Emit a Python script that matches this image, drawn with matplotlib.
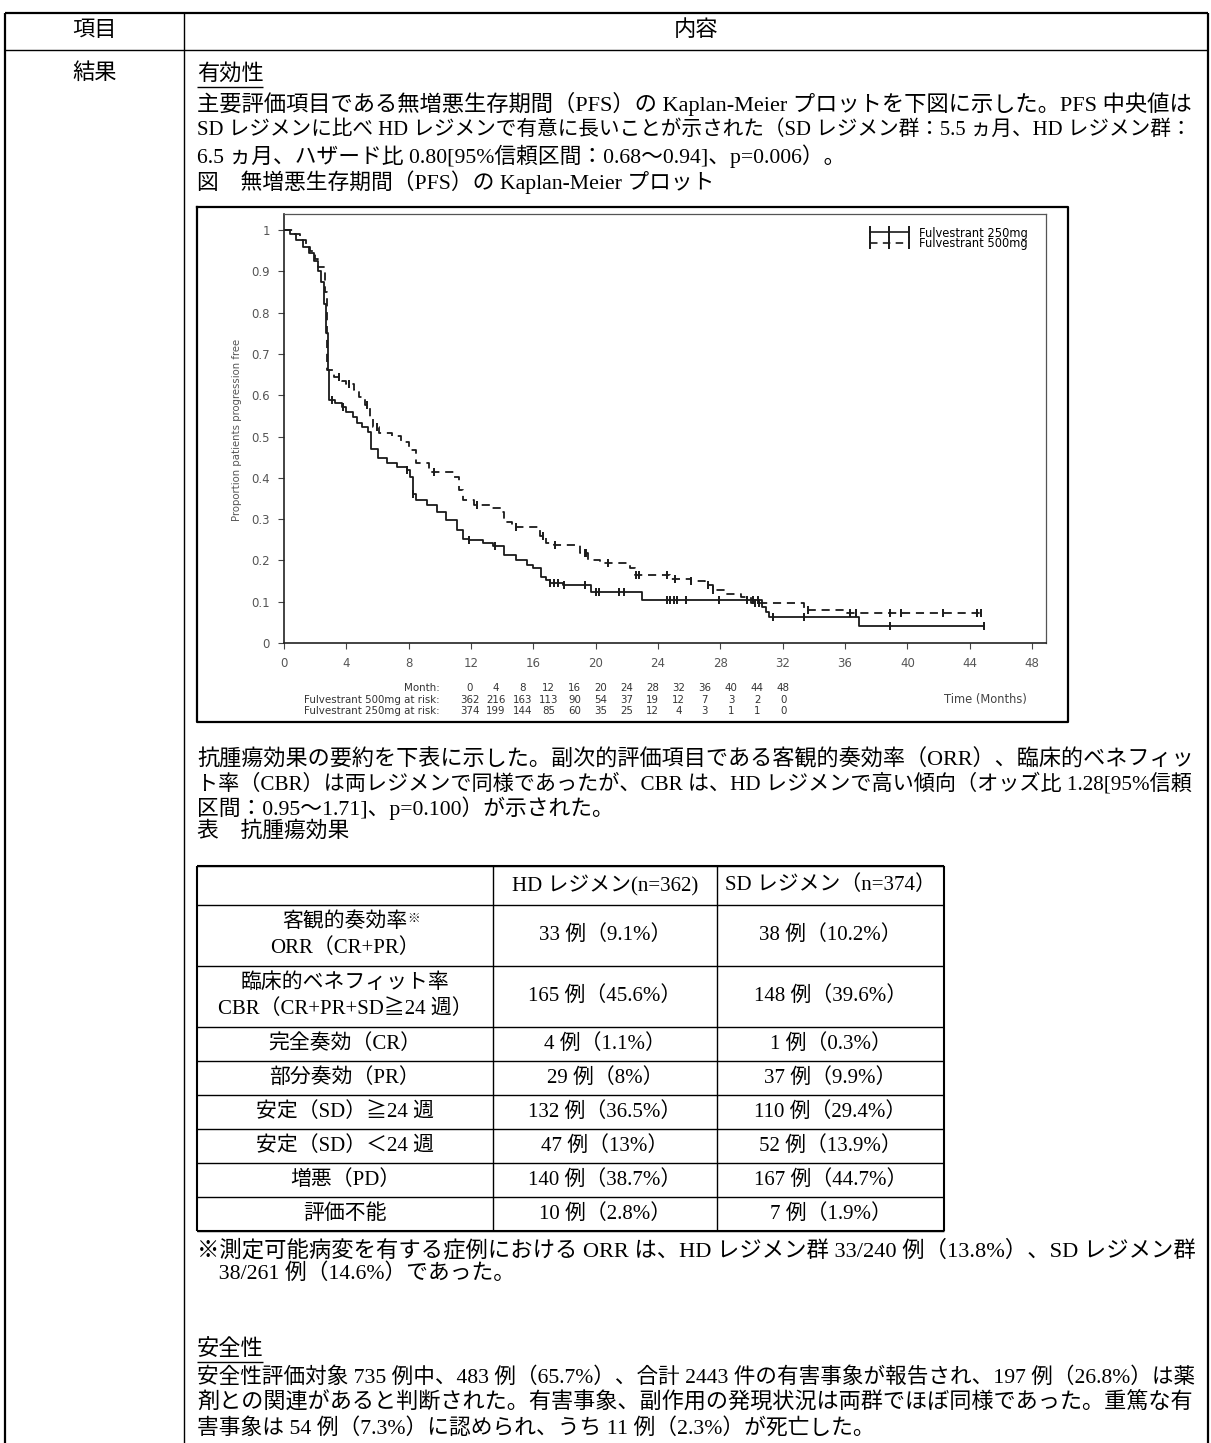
import numpy as np
import matplotlib.pyplot as plt
from matplotlib.lines import Line2D

plt.rcParams['font.family'] = ['Liberation Serif', 'Noto Sans CJK JP']

# Kaplan-Meier steps: (month, proportion progression free)
km_500 = [(0, 1.0), (0.6, 0.99), (1.0, 0.975), (1.4, 0.96), (1.7, 0.95), (2.0, 0.93),
          (2.2, 0.91), (2.63, 0.85), (2.78, 0.66), (3.2, 0.645), (3.7, 0.635), (4.0, 0.628),
          (4.5, 0.612), (4.8, 0.596), (5.2, 0.576), (5.5, 0.544), (5.7, 0.524), (6.1, 0.508),
          (6.9, 0.502), (7.5, 0.488), (8.0, 0.467), (8.5, 0.435), (9.3, 0.415), (10.9, 0.403),
          (11.2, 0.37), (11.5, 0.346), (12.2, 0.334), (13.2, 0.326), (13.9, 0.318), (14.1, 0.294),
          (14.6, 0.282), (16.4, 0.258), (16.8, 0.242), (17.3, 0.237), (19.0, 0.217), (19.5, 0.202),
          (20.3, 0.193), (22.2, 0.181), (22.5, 0.165), (24.8, 0.154), (26.1, 0.149), (27.0, 0.140),
          (27.5, 0.128), (28.3, 0.119), (29.3, 0.112), (30.0, 0.098), (33.4, 0.080), (36.1, 0.072),
          (44.7, 0.072)]
km_250 = [(0, 1.0), (0.4, 0.99), (0.8, 0.975), (1.2, 0.96), (1.6, 0.945), (1.9, 0.925),
          (2.2, 0.90), (2.4, 0.875), (2.55, 0.82), (2.7, 0.75), (2.8, 0.66), (2.9, 0.589),
          (3.3, 0.582), (3.7, 0.572), (4.0, 0.56), (4.4, 0.548), (4.7, 0.532), (5.0, 0.522),
          (5.42, 0.512), (5.6, 0.47), (6.06, 0.447), (6.6, 0.435), (7.24, 0.427), (7.88, 0.419),
          (8.1, 0.403), (8.3, 0.362), (8.5, 0.346), (9.16, 0.334), (9.8, 0.318), (10.4, 0.298),
          (11.1, 0.274), (11.5, 0.253), (11.9, 0.249), (12.8, 0.241), (13.4, 0.236), (14.1, 0.213),
          (14.9, 0.201), (15.6, 0.189), (16.0, 0.181), (16.5, 0.161), (16.8, 0.153), (17.1, 0.146),
          (17.9, 0.140), (19.7, 0.124), (23.0, 0.104), (30.7, 0.088), (30.9, 0.075), (31.1, 0.064),
          (36.9, 0.041), (44.9, 0.041)]
cens_500 = [3.5, 4.2, 5.3, 6.0, 9.6, 12.4, 14.9, 16.6, 17.4, 19.3, 19.4, 20.8, 22.6, 22.8,
            24.6, 25.1, 26.1, 27.2, 27.5, 30.2, 30.5, 33.6, 36.3, 36.7, 38.9, 39.6, 42.3, 44.5, 44.7]
cens_250 = [3.1, 3.8, 7.9, 8.3, 11.9, 13.55, 17.1, 17.3, 17.6, 18.0, 19.3, 20.0, 20.2, 21.5,
            21.8, 24.6, 24.8, 25.0, 25.2, 25.8, 27.9, 29.7, 30.1, 30.4, 31.4, 33.4, 38.9, 44.9]

risk_month = [0, 4, 8, 12, 16, 20, 24, 28, 32, 36, 40, 44, 48]
risk_500 = [362, 216, 163, 113, 90, 54, 37, 19, 12, 7, 3, 2, 0]
risk_250 = [374, 199, 144, 85, 60, 35, 25, 12, 4, 3, 1, 1, 0]

# efficacy table
row_labels = [["客観的奏効率", "ORR（CR+PR）"], ["臨床的ベネフィット率", "CBR（CR+PR+SD≧24 週）"],
              ["完全奏効（CR）"], ["部分奏効（PR）"], ["安定（SD）≧24 週"], ["安定（SD）＜24 週"],
              ["増悪（PD）"], ["評価不能"]]
col_labels = ["HD レジメン(n=362)", "SD レジメン（n=374）"]
hd_vals = ["33 例（9.1%）", "165 例（45.6%）", "4 例（1.1%）", "29 例（8%）",
           "132 例（36.5%）", "47 例（13%）", "140 例（38.7%）", "10 例（2.8%）"]
sd_vals = ["38 例（10.2%）", "148 例（39.6%）", "1 例（0.3%）", "37 例（9.9%）",
           "110 例（29.4%）", "52 例（13.9%）", "167 例（44.7%）", "7 例（1.9%）"]

para1 = ["主要評価項目である無増悪生存期間（PFS）の Kaplan-Meier プロットを下図に示した。PFS 中央値は",
         "SD レジメンに比べ HD レジメンで有意に長いことが示された（SD レジメン群：5.5 ヵ月、HD レジメン群：",
         "6.5 ヵ月、ハザード比 0.80[95%信頼区間：0.68～0.94]、p=0.006）。",
         "図　無増悪生存期間（PFS）の Kaplan-Meier プロット"]
para2 = ["抗腫瘍効果の要約を下表に示した。副次的評価項目である客観的奏効率（ORR）、臨床的ベネフィッ",
         "ト率（CBR）は両レジメンで同様であったが、CBR は、HD レジメンで高い傾向（オッズ比 1.28[95%信頼",
         "区間：0.95～1.71]、p=0.100）が示された。",
         "表　抗腫瘍効果"]
note = ["※測定可能病変を有する症例における ORR は、HD レジメン群 33/240 例（13.8%）、SD レジメン群",
        "　38/261 例（14.6%）であった。"]
para3 = ["安全性評価対象 735 例中、483 例（65.7%）、合計 2443 件の有害事象が報告され、197 例（26.8%）は薬",
         "剤との関連があると判断された。有害事象、副作用の発現状況は両群でほぼ同様であった。重篤な有",
         "害事象は 54 例（7.3%）に認められ、うち 11 例（2.3%）が死亡した。"]

W, H = 1211, 1443
FS = 16
fig = plt.figure(figsize=(W / 100, H / 100), dpi=100)
doc = fig.add_axes([0, 0, 1, 1])
doc.set_xlim(0, W)
doc.set_ylim(H, 0)
doc.axis('off')


def hline(y, x0, x1, lw=1.0):
    doc.plot([x0, x1], [y, y], color='black', lw=lw, solid_capstyle='butt')


def vline(x, y0, y1, lw=1.0):
    doc.plot([x, x], [y0, y1], color='black', lw=lw, solid_capstyle='butt')


def txt(x, y, s, ha='left', fs=FS, **kw):
    return doc.text(x, y, s, ha=ha, va='center', fontsize=fs, **kw)


full_lines = []   # lines that run to the right margin
short_lines = []

# outer document table
hline(13, 5, 1208, 1.6)
hline(50, 5, 1208, 1.0)
vline(5, 13, H, 1.6)
vline(1208, 13, H, 1.6)
vline(184, 13, H, 1.0)
txt(95, 31, "項目", ha='center')
txt(696, 31, "内容", ha='center')
txt(95, 74, "結果", ha='center')

X0 = 197
txt(X0, 74, "有効性")
hline(87, X0, X0 + 3 * 22, 1.0)
for i, s in enumerate(para1):
    t = txt(X0, 104 + i * 26, s)
    (full_lines if i < 2 else short_lines).append(t)

# embedded figure frame
doc.plot([197, 1068, 1068, 197, 197], [207, 207, 722, 722, 207], color='black', lw=1.6)

ax = fig.add_axes([284 / W, 1 - 643 / H, 762 / W, (643 - 214) / H])
ink = '#1a1a1a'
for data, cens, ls in [(km_250, cens_250, '-'), (km_500, cens_500, (0, (4.5, 3.2)))]:
    t = np.array([p[0] for p in data])
    s = np.array([p[1] for p in data])
    ax.step(t, s, where='post', color=ink, lw=1.3, ls=ls)
    idx = np.searchsorted(t, cens, side='right') - 1
    ax.plot(cens, s[idx], ls='none', marker='|', ms=5.5, mew=1.4, color=ink)
ax.set_xlim(0, 48.9)
ax.set_ylim(0, 1.039)
ax.set_xticks(range(0, 49, 4))
ax.set_yticks(np.arange(0, 1.01, 0.1))
ax.set_yticklabels(['0'] + ['%.1f' % v for v in np.arange(0.1, 0.95, 0.1)] + ['1'])
pf = dict(family='DejaVu Sans')
for lab in ax.get_xticklabels() + ax.get_yticklabels():
    lab.set_fontfamily('DejaVu Sans')
ax.tick_params(direction='out', length=4, width=0.8, color='#444', labelcolor='#555',
               labelsize=8.5, pad=6)
for side in ['top', 'right']:
    ax.spines[side].set_color('#555')
    ax.spines[side].set_linewidth(0.9)
for side in ['left', 'bottom']:
    ax.spines[side].set_color('#222')
    ax.spines[side].set_linewidth(1.2)

handles = [Line2D([], [], color=ink, lw=1.2, ls='-', marker='|', ms=8, mew=1.4),
           Line2D([], [], color=ink, lw=1.2, ls=(0, (4.5, 3.2)), marker='|', ms=8, mew=1.4)]
ax.legend(handles, ["Fulvestrant 250mg", "Fulvestrant 500mg"], loc='upper right',
          frameon=False, prop=dict(family='DejaVu Sans', size=8.3), numpoints=3,
          handlelength=4.0, labelspacing=-0.2, handletextpad=0.6,
          bbox_to_anchor=(0.99, 0.995))

doc.text(237, 430, "Proportion patients progression free", rotation=90, ha='center',
         va='center', fontsize=7.3, color='#555', **pf)
doc.text(985, 699, "Time (Months)", ha='center', va='center', fontsize=8.3, color='#444', **pf)
rows = [("Month:", risk_month, 688), ("Fulvestrant 500mg at risk:", risk_500, 700),
        ("Fulvestrant 250mg at risk:", risk_250, 711)]
for lab, vals, y in rows:
    doc.text(440, y, lab, ha='right', va='center', fontsize=7.4, color='#333', **pf)
    for j, v in enumerate(vals):
        doc.text(470 + 26.1 * j, y, str(v), ha='center', va='center', fontsize=7.4,
                 color='#333', **pf)

for i, s in enumerate(para2):
    t = txt(X0, 760 + i * 24, s)
    (full_lines if i < 2 else short_lines).append(t)

# efficacy table
TFS = 15
tb = [866, 905, 966, 1027, 1061, 1095, 1129, 1163, 1197, 1231]
tx = [197, 493, 717, 944]
for y in tb:
    hline(y, tx[0], tx[-1], 1.0)
hline(tb[0], tx[0], tx[-1], 1.5)
hline(tb[-1], tx[0], tx[-1], 1.5)
for x in tx:
    vline(x, tb[0], tb[-1], 1.5 if x in (tx[0], tx[-1]) else 1.0)
for j, s in enumerate(col_labels):
    txt((tx[j + 1] + tx[j + 2]) / 2, (tb[0] + tb[1]) / 2, s, ha='center', fs=TFS)
for i, lab in enumerate(row_labels):
    yc = (tb[i + 1] + tb[i + 2]) / 2
    xc = (tx[0] + tx[1]) / 2
    if len(lab) == 2:
        t1 = txt(xc, yc - 13, lab[0], ha='center', fs=TFS)
        txt(xc, yc + 13, lab[1], ha='center', fs=TFS)
        if i == 0:
            doc.annotate("※", xy=(1, 1), xycoords=t1, ha='left', va='top', fontsize=9)
    else:
        txt(xc, yc, lab[0], ha='center', fs=TFS)
    txt((tx[1] + tx[2]) / 2, yc, hd_vals[i], ha='center', fs=TFS)
    txt((tx[2] + tx[3]) / 2, yc, sd_vals[i], ha='center', fs=TFS)

for i, s in enumerate(note):
    t = txt(X0, 1250 + i * 24, s)
    (full_lines if i < 1 else short_lines).append(t)

txt(X0, 1350, "安全性")
hline(1362, X0, X0 + 3 * 22, 1.0)
for i, s in enumerate(para3):
    t = txt(X0, 1378 + i * 25, s)
    (full_lines if i < 2 else short_lines).append(t)

# fit the justified lines to the right margin of the cell
fig.canvas.draw()
r = fig.canvas.get_renderer()
sizes = []
for t in full_lines:
    w = t.get_window_extent(r).width
    t.set_fontsize(t.get_fontsize() * 998 / w)
    sizes.append(t.get_fontsize())
for t in short_lines:
    t.set_fontsize(np.mean(sizes))

fig.savefig('out.png', dpi=100)
